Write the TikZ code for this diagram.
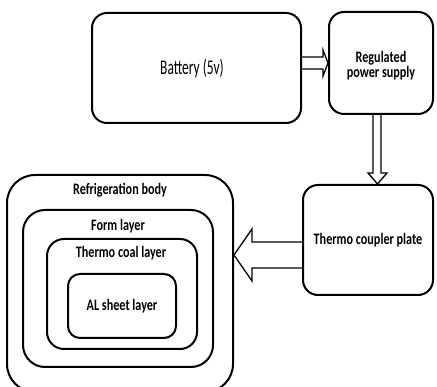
\documentclass[tikz,border=0pt]{standalone}
\usepackage{fontspec}
\setmainfont{Carlito}
\newcommand{\sqz}[2]{\scalebox{#1}[1]{#2}}
\begin{document}
\begin{tikzpicture}[x=1pt,y=-1pt,
  box/.style={draw, line width=2pt, rounded corners=#1, inner sep=0pt, align=center},
  box/.default=15pt,
  lbl/.style={font=\fontsize{16}{17}\selectfont\bfseries, inner sep=0pt, align=center},
  arr/.style={draw, line width=1.3pt, line join=miter}]
\useasboundingbox (0,0) rectangle (437,387);
% top row
\node[box, minimum width=209pt, minimum height=110pt] (bat) at (196.5,68) {};
\node[font=\fontsize{21}{22}\selectfont, inner sep=0pt] (batT) at (192,69) {\sqz{0.64}{Battery (5v)}};
\node[box, minimum width=104pt, minimum height=102pt] (rps) at (381,63) {};
\node[lbl] (rpsT) at (381,67) {\sqz{0.76}{\begin{tabular}{@{}c@{}}Regulated\\[-2pt]power supply\end{tabular}}};
\node[box, minimum width=130pt, minimum height=110pt, lbl] (th) at (368,240) {\sqz{0.76}{Thermo coupler plate}};
% nested refrigeration body
\node[box=28pt, minimum width=226pt, minimum height=217pt] (refr) at (120,283.5) {};
\node[box=22pt, minimum width=190pt, minimum height=157pt] (form) at (118,288.5) {};
\node[box=17pt, minimum width=150pt, minimum height=110pt] (coal) at (122,294) {};
\node[box=12pt, minimum width=108pt, minimum height=64pt, lbl] (al) at (122,306) {\sqz{0.76}{AL sheet layer}};
\node[lbl] (refrT) at (120,190) {\sqz{0.76}{Refrigeration body}};
\node[lbl] (formT) at (118,226) {\sqz{0.76}{Form layer}};
\node[lbl] (coalT) at (121,253) {\sqz{0.76}{Thermo coal layer}};
% arrows
\draw[arr] (bat.east |- 0,57) -- (323,57) -- (323,50) -- (rps.west |- 0,63) -- (323,76) -- (323,69) -- (bat.east |- 0,69);
\draw[arr] (373,0 |- rps.south) -- (373,173) -- (368,173) -- (377.5,0 |- th.north) -- (387,173) -- (381,173) -- (381,0 |- rps.south);
\draw[arr] (th.west |- 0,242) -- (252,242) -- (252,229) -- (refr.east |- 0,255) -- (252,281) -- (252,268) -- (th.west |- 0,268);
\end{tikzpicture}
\end{document}
